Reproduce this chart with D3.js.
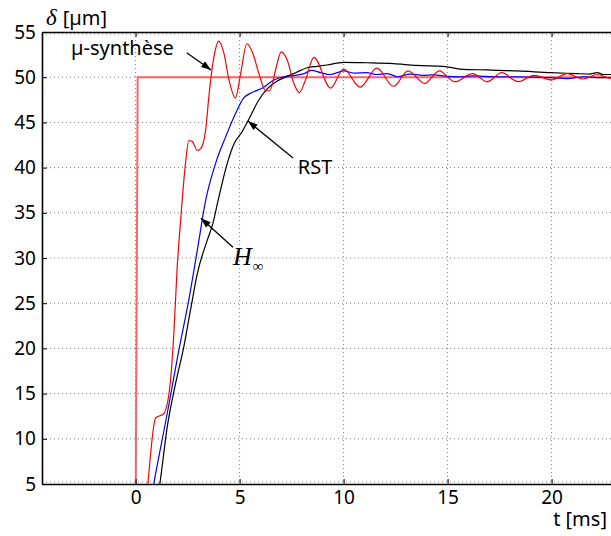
<!DOCTYPE html>
<html>
<head>
<meta charset="utf-8">
<script src="https://d3js.org/d3.v7.min.js"></script>
<style>
  body { margin: 0; background: #fff; }
  svg { display: block; font-family: "Noto Sans", sans-serif; }
  .axis path, .axis line { stroke: #000; }
  .grid line { stroke: #7a7a7a; stroke-dasharray: 1,3; }
</style>
</head>
<body>
<svg width="611" height="536"></svg>
<script>
// step reference (t [ms], delta [um])
var refT = [-4.5, 0, 0.1, 23];
var refY = [0, 0, 50, 50];

// mu-synthesis response
var muT = [0, 0.4, 0.59, 0.96, 1.36, 1.68, 1.84, 2.0, 2.16, 2.4, 2.56, 2.72, 2.97, 3.13, 3.37, 3.52, 3.77, 4.0, 4.25, 4.49, 4.8,
           5.05, 5.35, 5.61, 5.93, 6.25, 6.45, 6.73, 7.0, 7.29, 7.61, 7.87, 8.17, 8.57, 9.375, 10.0, 10.8, 11.6, 12.4, 13.1,
           13.9, 14.6, 15.35, 16.2, 16.9, 17.6, 18.4, 19.15, 20.0, 20.75, 21.5, 22.2, 22.8, 23];
var muY = [0, 0, 5, 12.3, 12.8, 16.5, 21.7, 29.0, 34.0, 40.5, 43.0, 42.9, 41.9, 42.1, 44.2, 47.8, 52.3, 54.0, 52.6, 49.7, 47.7,
           50.4, 53.7, 52.8, 50.4, 48.5, 48.5, 50.8, 52.8, 51.9, 49.3, 48.3, 49.7, 52.2, 48.8, 50.9, 48.9, 51.0, 49.0, 50.7,
           49.3, 50.7, 49.5, 50.4, 49.5, 50.5, 49.5, 50.2, 49.7, 50.4, 49.8, 50.3, 49.9, 49.9];

// H-infinity response
var hinfT = [0, 0.5, 0.88, 1.52, 2.08, 2.56, 2.97, 3.37, 3.85, 4.33, 4.81, 5.2, 5.6, 6.1, 6.65, 7.13, 7.7, 8.1, 8.45, 8.9,
             9.375, 9.7, 10.0, 10.5, 11.1, 11.6, 12.1, 12.6, 13.2, 13.8, 14.3, 15.0, 15.6, 16.2, 16.7, 17.5, 18.35, 19.2,
             19.95, 20.75, 21.55, 22.2, 22.8, 23];
var hinfY = [0, 0, 5.1, 12.8, 19.8, 25.4, 30.9, 36.4, 40.5, 43.4, 46.0, 47.7, 48.3, 48.8, 49.7, 50.05, 50.2, 50.4, 50.75, 50.5,
             50.3, 50.5, 50.7, 50.45, 50.5, 50.3, 50.4, 50.05, 50.35, 50.2, 50.25, 50.1, 50.05, 50.15, 50.1, 50.05, 50.05, 50.0,
             49.95, 49.85, 50.05, 49.95, 49.95, 49.95];

// RST response
var rstT = [0, 0.8, 1.17, 1.52, 1.92, 2.32, 2.64, 2.97, 3.45, 3.69, 3.95, 4.41, 4.73, 5.13, 5.5, 5.9, 6.33, 6.75, 7.2, 7.7,
            8.25, 8.73, 9.2, 10.0, 11.1, 12.4, 13.5, 14.8, 15.6, 16.9, 18.35, 19.95, 21.2, 21.8, 22.2, 22.5, 23];
var rstY = [0, 0, 5.1, 11.3, 16.1, 20.2, 24.25, 28.3, 32.0, 33.6, 36.2, 40.5, 42.6, 44.0, 45.6, 47.4, 48.7, 49.5, 50.0, 50.5,
            51.05, 51.2, 51.35, 51.65, 51.6, 51.5, 51.3, 51.2, 50.9, 50.8, 50.7, 50.5, 50.4, 50.35, 50.5, 50.3, 50.3];

var xTicks = [0, 5, 10, 15, 20];
var yTicks = [5, 10, 15, 20, 25, 30, 35, 40, 45, 50, 55];

// annotations: label, label position, arrow tail, arrow tip (data coords)
var notes = [
  {text: "µ-synthèse", at: [-3.1, 52.45], from: [2.46, 52.7], to: [3.63, 50.8]},
  {text: "RST", at: [7.8, 39.3], from: [7.57, 41.05], to: [5.4, 45.15]},
  {text: "H", at: [4.68, 29.2], from: [4.68, 31.2], to: [3.14, 34.4]}
];

var svg = d3.select("svg"),
    pLeft = 42, pTop = 32, pBottom = 484, pRight = 614;

var x = d3.scaleLinear().domain([-4.5, 23]).range([pLeft, pRight]);
var y = d3.scaleLinear().domain([5, 55]).range([pBottom, pTop]);

var defs = svg.append("defs");
defs.append("clipPath").attr("id", "clip")
  .append("rect").attr("x", pLeft).attr("y", pTop)
  .attr("width", pRight - pLeft).attr("height", pBottom - pTop);

defs.append("marker")
    .attr("id", "arrow")
    .attr("viewBox", "0 -4 10 8")
    .attr("refX", 10).attr("refY", 0)
    .attr("markerWidth", 10).attr("markerHeight", 8)
    .attr("markerUnits", "userSpaceOnUse")
    .attr("orient", "auto")
  .append("path").attr("d", "M0,-3.5L10,0L0,3.5Z").attr("fill", "#000");

// grid
var grid = svg.append("g").attr("class", "grid");
grid.selectAll(".gx").data(xTicks).enter().append("line")
    .attr("x1", function(d) { return x(d); }).attr("x2", function(d) { return x(d); })
    .attr("y1", pTop).attr("y2", pBottom);
grid.selectAll(".gy").data(yTicks).enter().append("line")
    .attr("x1", pLeft).attr("x2", 611)
    .attr("y1", function(d) { return y(d) + (d == 55 ? 2 : d == 5 ? -2 : 0); })
    .attr("y2", function(d) { return y(d) + (d == 55 ? 2 : d == 5 ? -2 : 0); });

function series(ts, vs) {
  return ts.map(function(t, i) { return {t: t, v: vs[i]}; });
}

var line = d3.line()
    .x(function(d) { return x(d.t); })
    .y(function(d) { return y(d.v); });

var smooth = d3.line()
    .curve(d3.curveMonotoneX)
    .x(function(d) { return x(d.t); })
    .y(function(d) { return y(d.v); });

var plot = svg.append("g").attr("clip-path", "url(#clip)");

plot.append("path").datum(series(refT, refY))
    .attr("fill", "none").attr("stroke", "#ff4a4a").attr("stroke-opacity", 0.85)
    .attr("stroke-width", 2).attr("d", line);

plot.append("path").datum(series(hinfT, hinfY))
    .attr("fill", "none").attr("stroke", "#0000ff").attr("stroke-width", 1.2).attr("d", smooth);

plot.append("path").datum(series(rstT, rstY))
    .attr("fill", "none").attr("stroke", "#000").attr("stroke-width", 1.2).attr("d", smooth);

plot.append("path").datum(series(muT, muY))
    .attr("fill", "none").attr("stroke", "#ff0000").attr("stroke-width", 1.2).attr("d", smooth);

// axes
svg.append("g")
    .attr("class", "axis")
    .attr("transform", "translate(0," + pBottom + ")")
    .call(d3.axisBottom(x).tickValues(xTicks).tickSizeInner(-5).tickSizeOuter(0).tickPadding(6))
    .call(function(g) { g.selectAll("text").attr("font-size", 19).attr("font-family", "Noto Sans").attr("fill", "#000"); })
    .select(".domain").attr("stroke-width", 1.6);

svg.append("g")
    .attr("class", "axis")
    .attr("transform", "translate(0," + pTop + ")")
    .call(d3.axisTop(x).tickValues(xTicks).tickSizeInner(-5).tickSizeOuter(0).tickFormat(""))
    .select(".domain").attr("stroke-width", 1.6);

svg.append("g")
    .attr("class", "axis")
    .attr("transform", "translate(" + pLeft + ",0)")
    .call(d3.axisLeft(y).tickValues(yTicks).tickSizeInner(-5).tickSizeOuter(0).tickPadding(6))
    .call(function(g) { g.selectAll("text").attr("font-size", 19).attr("font-family", "Noto Sans").attr("fill", "#000"); })
    .select(".domain").attr("stroke-width", 1.6);

// axis titles
var yTitle = svg.append("text").attr("x", 46).attr("y", 25).attr("font-size", 20);
yTitle.append("tspan").attr("font-family", "Liberation Serif").attr("font-style", "italic").attr("font-size", 23).text("δ");
yTitle.append("tspan").attr("dx", 6).text("[µm]");

svg.append("text").attr("x", 607).attr("y", 526)
    .attr("text-anchor", "end").attr("font-size", 20).text("t [ms]");

// annotations
notes.forEach(function(n) {
  svg.append("line")
      .attr("x1", x(n.from[0])).attr("y1", y(n.from[1]))
      .attr("x2", x(n.to[0])).attr("y2", y(n.to[1]))
      .attr("stroke", "#000").attr("stroke-width", 1.3)
      .attr("marker-end", "url(#arrow)");
  var t = svg.append("text").attr("x", x(n.at[0])).attr("y", y(n.at[1]));
  if (n.text == "H") {
    t.attr("font-family", "Liberation Serif").attr("font-style", "italic").attr("font-size", 26).text("H");
    t.append("tspan").attr("dx", 1).attr("dy", 6).attr("font-size", 15).attr("font-style", "normal").text("∞");
  } else {
    t.attr("font-size", 20).text(n.text);
  }
});
</script>
</body>
</html>
